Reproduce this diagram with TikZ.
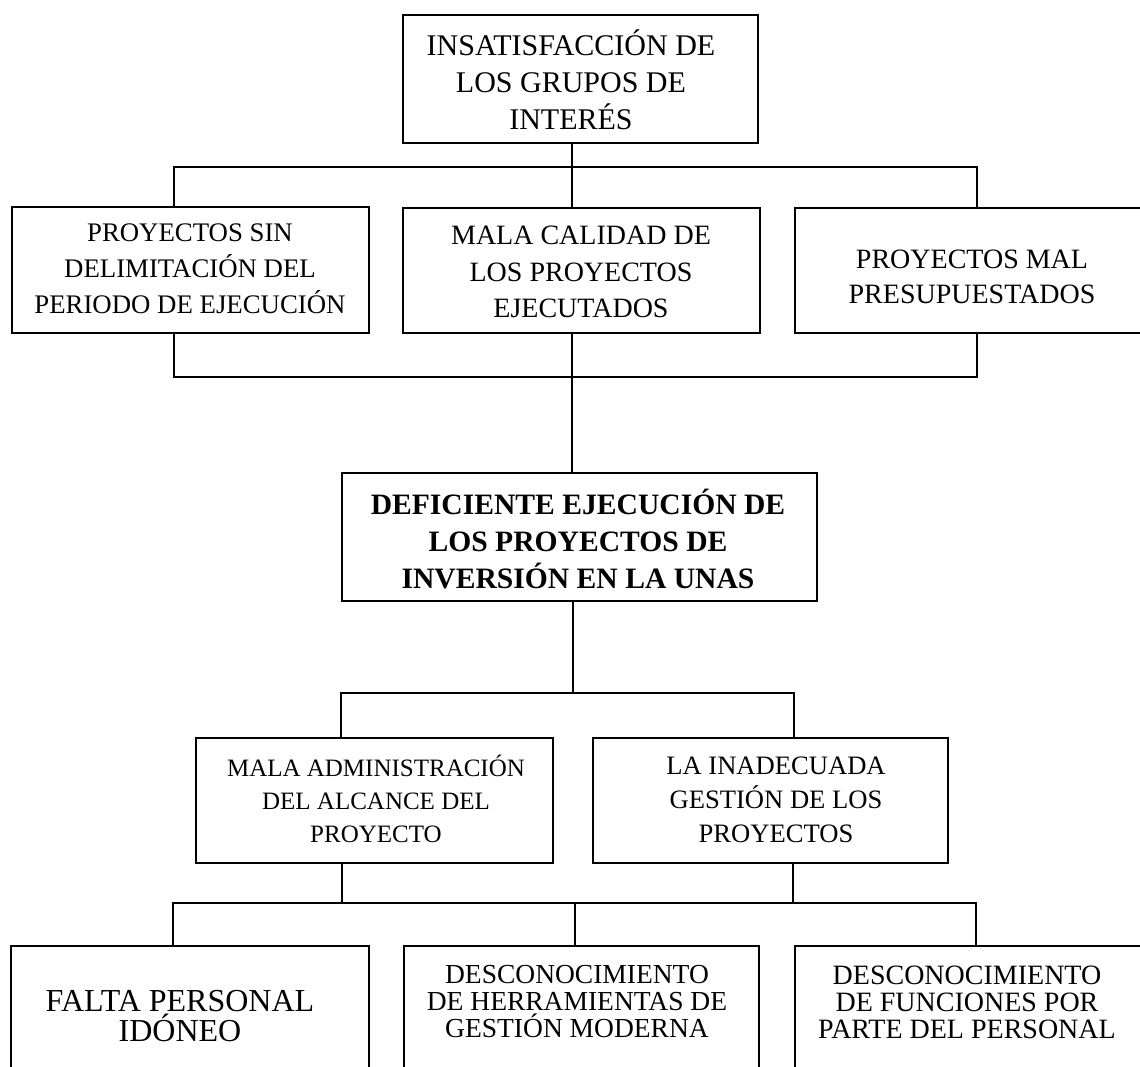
\documentclass[tikz,border=0pt]{standalone}
\usepackage{fontspec}
\setmainfont{Liberation Serif}
\usetikzlibrary{fit}
\newcommand{\tsz}[2]{\fontsize{#1}{#2}\selectfont}
\tikzset{
  box/.style={draw, line width=1.1pt, inner sep=0pt},
  txt/.style={align=center, inner sep=0pt},
  wire/.style={line width=0.8pt},
}
\begin{document}
\begin{tikzpicture}[x=0.5pt,y=-0.5pt]
\useasboundingbox (0,0) rectangle (1140,1066);
\clip (0,0) rectangle (1140,1066);

% frames
\node[box, fit={(403,15) (758,143)}] (T) {};
\node[box, fit={(12,207) (369,333)}] (L) {};
\node[box, fit={(403,208) (760,333)}] (M) {};
\node[box, fit={(795,208) (1150,333)}] (R) {};
\node[box, fit={(342,473) (817,601)}] (C) {};
\node[box, fit={(196,738) (553,863)}] (D) {};
\node[box, fit={(593,738) (948,863)}] (E) {};
\node[box, fit={(11,946) (369,1080)}] (F) {};
\node[box, fit={(404,946) (759,1080)}] (G) {};
\node[box, fit={(795,946) (1150,1080)}] (H) {};

% texts
\node[txt, font=\tsz{15}{18.5}] (Tt) at (571,80) {INSATISFACCIÓN DE\\LOS GRUPOS DE\\INTERÉS};
\node[txt, font=\tsz{13.4}{18}] (Lt) at (190,269) {PROYECTOS SIN\\DELIMITACIÓN DEL\\PERIODO DE EJECUCIÓN};
\node[txt, font=\tsz{14}{18.25}] (Mt) at (581,272) {MALA CALIDAD DE\\LOS PROYECTOS\\EJECUTADOS};
\node[txt, font=\tsz{14}{17.5}] (Rt) at (972,277) {PROYECTOS MAL\\PRESUPUESTADOS};
\node[txt, font=\bfseries\tsz{14.8}{18.5}] (Ct) at (578,539) {DEFICIENTE EJECUCIÓN DE\\LOS PROYECTOS DE\\INVERSIÓN EN LA UNAS};
\node[txt, font=\tsz{12.5}{16.5}] (Dt) at (376,799) {MALA ADMINISTRACIÓN\\DEL ALCANCE DEL\\PROYECTO};
\node[txt, font=\tsz{13.3}{17}] (Et) at (776,800) {LA INADECUADA\\GESTIÓN DE LOS\\PROYECTOS};
\node[txt, font=\tsz{16}{15}] (Ft) at (180,1016) {FALTA PERSONAL\\IDÓNEO};
\node[txt, font=\tsz{13.75}{13.5}] (Gt) at (577,1002) {DESCONOCIMIENTO\\DE HERRAMIENTAS DE\\GESTIÓN MODERNA};
\node[txt, font=\tsz{14}{13.5}] (Ht) at (967,1002) {DESCONOCIMIENTO\\DE FUNCIONES POR\\PARTE DEL PERSONAL};

% bus junctions
\coordinate (b1m) at (572,167);
\coordinate (b1l) at (174,167);
\coordinate (b1r) at (977,167);
\coordinate (b2m) at (572,377);
\coordinate (b2l) at (174,377);
\coordinate (b2r) at (977,377);
\coordinate (b3m) at (573,693);
\coordinate (b3l) at (341,693);
\coordinate (b3r) at (794,693);
\coordinate (b4l) at (173,903);
\coordinate (b4r) at (976,903);
\coordinate (b4m) at (575,903);
\coordinate (b4a) at (342,903);
\coordinate (b4b) at (793,903);

% connectors
\draw[wire] (b1m |- T.south) -- (b1m);
\draw[wire] (b1l |- L.north) -- (b1l) -- (b1r) -- (b1r |- R.north);
\draw[wire] (b1m) -- (b1m |- M.north);
\draw[wire] (b2l |- L.south) -- (b2l) -- (b2r) -- (b2r |- R.south);
\draw[wire] (b2m |- M.south) -- (b2m) -- (b2m |- C.north);
\draw[wire] (b3m |- C.south) -- (b3m);
\draw[wire] (b3l |- D.north) -- (b3l) -- (b3r) -- (b3r |- E.north);
\draw[wire] (b4a |- D.south) -- (b4a);
\draw[wire] (b4b |- E.south) -- (b4b);
\draw[wire] (b4l |- F.north) -- (b4l) -- (b4r) -- (b4r |- H.north);
\draw[wire] (b4m) -- (b4m |- G.north);
\end{tikzpicture}
\end{document}
